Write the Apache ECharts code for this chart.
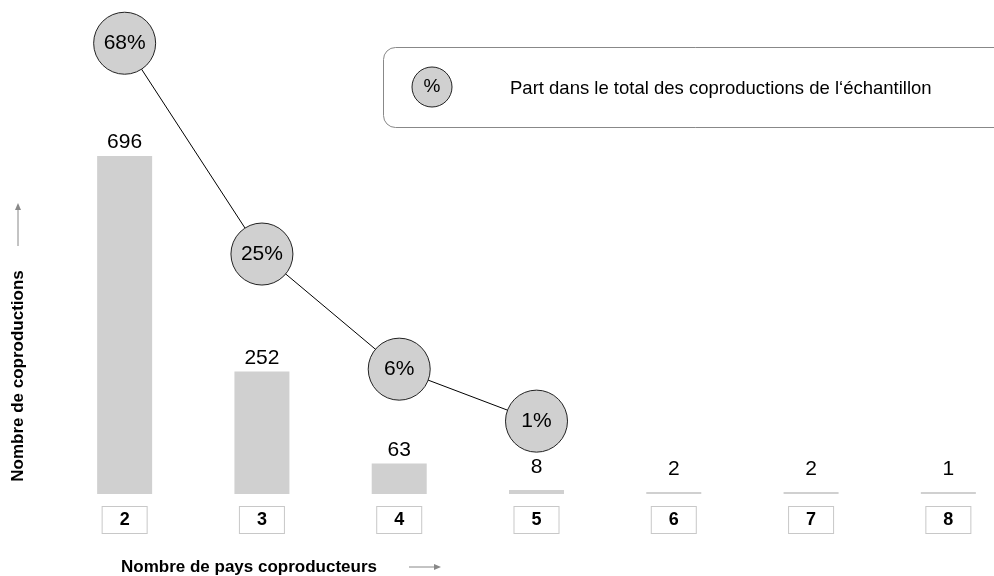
<!DOCTYPE html>
<html>
<head>
<meta charset="utf-8">
<script src="https://cdn.jsdelivr.net/npm/echarts@6/dist/echarts.min.js"></script>
<style>
  html, body { margin: 0; padding: 0; background: #fff; }
  #chart { width: 994px; height: 576px; }
</style>
</head>
<body>
<div id="chart"></div>
<script>
// nombre de pays coproducteurs
var categories = ['2', '3', '4', '5', '6', '7', '8'];
// nombre de coproductions
var counts = [696, 252, 63, 8, 2, 2, 1];
// part dans le total (%)
var shares = [68, 25, 6, 1, null, null, null];
// hauteur (en unités de l'axe) où sont posés les cercles
var shareLevel = [928, 494, 257, 150, null, null, null];

var chart = echarts.init(document.getElementById('chart'));
var font = 'Liberation Sans, Arial, sans-serif';

var barData = counts.map(function (v) {
  return { value: v, label: { distance: v < 20 ? 12 : 3 } };
});
var shareData = shareLevel.map(function (v, i) {
  return v == null ? null : { value: v, share: shares[i] };
});

var option = {
  backgroundColor: '#fff',
  animation: false,
  textStyle: { fontFamily: font },
  grid: { left: 56, width: 961, top: 0, bottom: 82, outerBoundsMode: 'none', containLabel: false },
  xAxis: {
    type: 'category',
    data: categories,
    axisLine: { show: false },
    axisTick: { show: false },
    axisLabel: {
      margin: 13,
      color: '#000',
      fontWeight: 'bold',
      fontSize: 18,
      fontFamily: font,
      backgroundColor: '#fff',
      borderColor: '#c8c8c8',
      borderWidth: 1,
      width: 44,
      height: 26,
      lineHeight: 26,
      align: 'center'
    }
  },
  yAxis: {
    type: 'value',
    min: 0,
    max: 1017,
    show: false
  },
  series: [
    {
      type: 'bar',
      data: barData,
      barWidth: 55,
      barMinHeight: 2,
      itemStyle: { color: '#d0d0d0' },
      label: {
        show: true,
        position: 'top',
        color: '#000',
        fontSize: 21,
        fontFamily: font
      }
    },
    {
      type: 'line',
      data: shareData,
      symbol: 'circle',
      symbolSize: 62,
      connectNulls: false,
      lineStyle: { color: '#000', width: 1 },
      itemStyle: { color: '#d0d0d0', borderColor: '#222', borderWidth: 1 },
      label: {
        show: true,
        position: 'inside',
        color: '#000',
        fontSize: 21,
        fontFamily: font,
        formatter: function (p) { return p.data.share + '%'; }
      },
      z: 3
    }
  ],
  graphic: [
    {
      type: 'rect',
      shape: { x: 383.5, y: 47.5, width: 640, height: 80, r: 12 },
      style: { fill: '#fff', stroke: '#888', lineWidth: 1 },
      z: 1
    },
    {
      type: 'circle',
      shape: { cx: 432, cy: 87, r: 20 },
      style: { fill: '#d0d0d0', stroke: '#222', lineWidth: 1 },
      z: 2
    },
    {
      type: 'text',
      x: 432, y: 87,
      style: { text: '%', font: '19px ' + font, fill: '#000', align: 'center', verticalAlign: 'middle' },
      z: 3
    },
    {
      type: 'text',
      x: 510, y: 89,
      style: { text: 'Part dans le total des coproductions de l\u2018échantillon', font: '18.5px ' + font, fill: '#000', verticalAlign: 'middle' },
      z: 3
    },
    {
      type: 'text',
      x: 18, y: 376,
      rotation: Math.PI / 2,
      style: { text: 'Nombre de coproductions', font: 'bold 17px ' + font, fill: '#000', align: 'center', verticalAlign: 'middle' }
    },
    {
      type: 'line',
      shape: { x1: 18, y1: 246, x2: 18, y2: 208 },
      style: { stroke: '#888', lineWidth: 1 }
    },
    {
      type: 'polygon',
      shape: { points: [[18, 203], [15, 210], [21, 210]] },
      style: { fill: '#888' }
    },
    {
      type: 'text',
      x: 121, y: 567,
      style: { text: 'Nombre de pays coproducteurs', font: 'bold 17px ' + font, fill: '#000', verticalAlign: 'middle' }
    },
    {
      type: 'line',
      shape: { x1: 409, y1: 567, x2: 435, y2: 567 },
      style: { stroke: '#888', lineWidth: 1 }
    },
    {
      type: 'polygon',
      shape: { points: [[441, 567], [434, 564], [434, 570]] },
      style: { fill: '#888' }
    }
  ]
};

option && chart.setOption(option);
</script>
</body>
</html>
